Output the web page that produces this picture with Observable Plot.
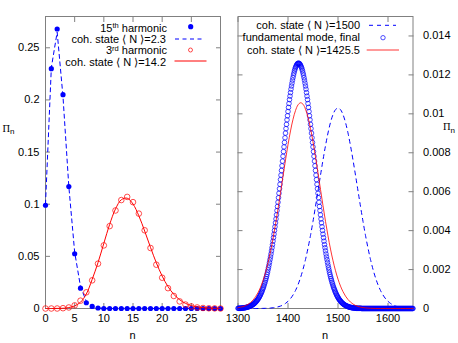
<!DOCTYPE html>
<html><head><meta charset="utf-8">
<script src="https://cdn.jsdelivr.net/npm/d3@7"></script>
<script src="https://cdn.jsdelivr.net/npm/@observablehq/plot@0.6"></script>
<style>
body{margin:0;background:#fff;}
#chart{position:relative;width:458px;height:343px;overflow:hidden;background:#fff;}
#chart svg{position:absolute;top:0;}
</style></head><body>
<div id="chart"></div>
<script>
// ---------- left panel data ----------
const leftN = [0,1,2,3,4,5,6,7,8,9,10,11,12,13,14,15,16,17,18,19,20,21,22,23,24,25,26,27,28,29,30];
const harmonic15 = [0.099,0.230,0.268,0.205,0.117,0.0525,0.0195,0.0055,0.002,0.0005,0,0,0,0,0,0,0,0,0,0,0,0,0,0,0,0,0,0,0,0,0];
const cohN2_3 = [0.100,0.231,0.265,0.203,0.117,0.054,0.021,0.0068,0.002,0.0005,0.0001,0,0,0,0,0,0,0,0,0,0,0,0,0,0,0,0,0,0,0,0];
const harmonic3 = [0,0,0,0.0003,0.001,0.003,0.0075,0.0155,0.027,0.043,0.0605,0.079,0.094,0.104,0.107,0.102,0.091,0.075,0.058,0.042,0.0295,0.0195,0.012,0.0068,0.0038,0.002,0.001,0.0005,0.0002,0.0001,0];
const cohN14_2 = [0,0,0.0001,0.0002,0.0009,0.0025,0.006,0.0139,0.0279,0.044,0.0625,0.0807,0.0955,0.1043,0.1058,0.1002,0.0889,0.0743,0.0586,0.0438,0.0311,0.021,0.0136,0.0084,0.0049,0.0028,0.0015,0.0008,0.0004,0.0002,0.0001];
const leftXTicks = [0,5,10,15,20,25,30];
const leftXLabels = [0,5,10,15,20,25];
const leftYTicks = [0,0.05,0.1,0.15,0.2,0.25];

// ---------- right panel data ----------
const rightN = [1300,1305,1310,1315,1320,1325,1330,1335,1340,1345,1350,1355,1360,1365,1370,1375,1380,1385,1390,1395,1400,1405,1410,1415,1420,1425,1430,1435,1440,1445,1450,1455,1460,1465,1470,1475,1480,1485,1490,1495,1500,1505,1510,1515,1520,1525,1530,1535,1540,1545,1550,1555,1560,1565,1570,1575,1580,1585,1590,1595,1600,1605,1610,1615,1620,1625,1630,1635,1640,1645,1650];
const cohN1500 = [0,0,0,0,0,0,0,0,0,0.000003,0.000006,0.000009,0.000015,0.000024,0.000037,0.000056,0.000085,0.000125,0.000182,0.000261,0.000367,0.000508,0.000692,0.000926,0.00122,0.00158,0.002011,0.002518,0.003102,0.003754,0.004475,0.005245,0.006043,0.006847,0.00763,0.00836,0.009014,0.009556,0.009962,0.010215,0.0103,
 0.010215,0.009962,0.009556,0.009014,0.00836,0.00763,0.006847,0.006043,0.005245,0.004475,0.003754,0.003102,0.002518,0.002011,0.00158,0.00122,0.000926,0.000692,0.000508,0.000367,0.000261,0.000182,0.000125,0.000085,0.000056,0.000037,0.000024,0.000015,0.000009,0.000006];
const cohN1425_5 = [0.000042,0.000065,0.000098,0.000146,0.000213,0.000306,0.000431,0.000598,0.000814,0.001089,0.001432,0.00185,0.002348,0.002928,0.003589,0.004321,0.005114,0.005946,0.006793,0.007627,0.008414,0.009121,0.009716,0.010168,0.010458,0.010569,0.010495,0.01024,0.009819,0.00925,0.008563,0.007789,0.006962,0.006116,0.005278,0.004475,0.003729,0.003053,0.002457,0.001943,0.001508,0.001151,0.000864,0.000636,0.000461,0.000328,0.000229,0.000157,0.000106,0.000071,0.000046,0.00003,0.000019,0.000012,0.000007,0,0,0,0,0,0,0,0,0,0,0,0,0,0,0,0];
// fundamental mode, final: Π_n × 1e5 for n = 1300, 1301, ..., 1650
const fundamentalStart = 1300;
const fundamental_1e5 = [
 1,1,1,1,1,1,2,2,2,2,3,3,3,4,4,5,5,6,6,7,8,
 9,10,11,12,13,14,16,17,19,21,22,25,27,29,32,35,38,41,45,48,
 52,57,61,66,71,77,83,89,96,103,110,118,127,135,145,154,164,175,186,198,
 210,223,237,251,265,280,296,312,328,346,364,382,401,420,440,460,481,503,524,546,
 569,592,615,638,662,685,709,733,757,782,806,830,853,877,901,924,946,969,990,1012,
 1033,1053,1073,1091,1109,1127,1143,1158,1173,1186,1199,1210,1221,1230,1238,1244,1250,1254,1258,1259,
 1260,
 1259,1258,1254,1250,1244,1238,1230,1221,1210,1199,1186,1173,1158,1143,1127,1109,1091,1073,1053,1033,
 1012,990,969,946,924,901,877,853,830,806,782,757,733,709,685,662,638,615,592,569,
 546,524,503,481,460,440,420,401,382,364,346,328,312,296,280,265,251,237,223,210,
 198,186,175,164,154,145,135,127,118,110,103,96,89,83,77,71,66,61,57,52,
 48,45,41,38,35,32,29,27,25,22,21,19,17,16,14,13,12,11,10,9,
 8,7,6,6,5,5,4,4,3,3,3,2,2,2,2,1,1,1,1,1,1,1,1,1,1,
 0,0,0,0,0,0,0,0,0,0, 0,0,0,0,0,0,0,0,0,0, 0,0,0,0,0,0,0,0,0,0, 0,0,0,0,0,0,0,0,0,0,
 0,0,0,0,0,0,0,0,0,0, 0,0,0,0,0,0,0,0,0,0, 0,0,0,0,0,0,0,0,0,0, 0,0,0,0,0,0,0,0,0,0,
 0,0,0,0,0,0,0,0,0,0, 0,0,0,0,0,0,0,0,0,0, 0,0,0,0
];
const rightXTicks = [1300,1400,1500,1600];
const rightYTicks = [0,0.002,0.004,0.006,0.008,0.01,0.012,0.014];

// ---------- tables ----------
const tbl = (ns, vs) => ns.map((n, i) => ({n, p: vs[i]}));
const L15 = tbl(leftN, harmonic15);
const Lc23 = tbl(leftN, cohN2_3);
const L3 = tbl(leftN, harmonic3);
const Lc142 = tbl(leftN, cohN14_2);
const Rc1500 = tbl(rightN, cohN1500);
const Rc1425 = tbl(rightN, cohN1425_5);
const Rfund = fundamental_1e5.map((v, i) => ({n: fundamentalStart + i, p: v / 1e5}));

const GREY = "#808080";
const style = {fontFamily: "'Liberation Sans', Arial, sans-serif", fontSize: "11px", color: "black", background: "none", overflow: "visible"};
const fmt = d => String(d);

function ticksInward(xt, yt) {
  return [
    Plot.axisY({ticks: yt, anchor: "left", tickSize: 5, dx: 5, fill: "none", stroke: GREY, label: null}),
    Plot.axisY({ticks: yt, anchor: "right", tickSize: 5, dx: -5, fill: "none", stroke: GREY, label: null}),
    Plot.axisX({ticks: xt, anchor: "bottom", tickSize: 5, dy: -5, fill: "none", stroke: GREY, label: null}),
    Plot.axisX({ticks: xt, anchor: "top", tickSize: 5, dy: 5, fill: "none", stroke: GREY, label: null})
  ];
}

const left = Plot.plot({
  width: 230, height: 343,
  marginLeft: 45, marginRight: 10, marginTop: 16, marginBottom: 35,
  style,
  x: {domain: [0, 30]},
  y: {domain: [0, 0.28]},
  marks: [
    ...ticksInward(leftXTicks, leftYTicks),
    Plot.axisY({ticks: leftYTicks, anchor: "left", tickSize: 0, tickPadding: 6, tickFormat: fmt, label: null}),
    Plot.axisX({ticks: leftXLabels, anchor: "bottom", tickSize: 0, tickPadding: 6, tickFormat: fmt, label: null}),
    Plot.frame({stroke: GREY}),
    Plot.dot(L15, {x: "n", y: "p", r: 2.6, fill: "#0000ff", stroke: "none"}),
    Plot.line(Lc23, {x: "n", y: "p", stroke: "#0000ff", strokeWidth: 1, strokeDasharray: "4,3.5"}),
    Plot.dot(L3, {x: "n", y: "p", r: 2.8, fill: "none", stroke: "#ff0000", strokeWidth: 0.7}),
    Plot.line(Lc142, {x: "n", y: "p", stroke: "#ff0000", strokeWidth: 1, curve: "catmull-rom"})
  ]
});
left.style.left = "0px";

const right = Plot.plot({
  width: 228, height: 343,
  marginLeft: 7.5, marginRight: 45.5, marginTop: 16, marginBottom: 35,
  style,
  x: {domain: [1300, 1650]},
  y: {domain: [0, 0.015]},
  marks: [
    ...ticksInward(rightXTicks, rightYTicks),
    Plot.axisY({ticks: rightYTicks, anchor: "right", tickSize: 0, tickPadding: 10, tickFormat: fmt, label: null}),
    Plot.axisX({ticks: rightXTicks, anchor: "bottom", tickSize: 0, tickPadding: 6, tickFormat: fmt, label: null}),
    Plot.frame({stroke: GREY}),
    Plot.line(Rc1500, {x: "n", y: "p", stroke: "#0000ff", strokeWidth: 1, strokeDasharray: "4,4", curve: "catmull-rom"}),
    Plot.dot(Rfund, {x: "n", y: "p", r: 2.3, fill: "none", stroke: "#0000ff", strokeWidth: 0.7}),
    Plot.line(Rc1425, {x: "n", y: "p", stroke: "#ff0000", strokeWidth: 0.8, curve: "catmull-rom"})
  ]
});
right.style.left = "230px";

const chart = document.getElementById("chart");
chart.appendChild(left);
chart.appendChild(right);

// ---------- legends and axis titles ----------
const overlay = `
<svg width="458" height="343" style="left:0;top:0;pointer-events:none" font-family="'Liberation Sans', Arial, sans-serif" font-size="11" fill="black">
  <g text-anchor="end">
    <text x="167" y="31.5">15<tspan dy="-3.5" font-size="7.5">th</tspan><tspan dy="3.5"> harmonic</tspan></text>
    <text x="166" y="42.5">coh. state ⟨ N ⟩=2.3</text>
    <text x="167" y="54.3">3<tspan dy="-3.5" font-size="7.5">rd</tspan><tspan dy="3.5"> harmonic</tspan></text>
    <text x="166" y="65.5">coh. state ⟨ N ⟩=14.2</text>
    <text x="360" y="29.3">coh. state ⟨ N ⟩=1500</text>
    <text x="360" y="41.3">fundamental mode, final</text>
    <text x="360" y="53.6">coh. state ⟨ N ⟩=1425.5</text>
  </g>
  <circle cx="190.7" cy="26.7" r="2.6" fill="#0000ff"/>
  <line x1="175" x2="202" y1="39" y2="39" stroke="#0000ff" stroke-dasharray="4,3.5"/>
  <circle cx="190.5" cy="50" r="2" fill="none" stroke="#ff0000" stroke-width="0.7"/>
  <line x1="174.5" x2="206.5" y1="61" y2="61" stroke="#ff0000"/>
  <line x1="369" x2="396" y1="25.3" y2="25.3" stroke="#0000ff" stroke-dasharray="4,4"/>
  <circle cx="383" cy="37.7" r="2.2" fill="none" stroke="#0000ff" stroke-width="0.7"/>
  <line x1="366.7" x2="399" y1="50" y2="50" stroke="#ff0000" stroke-width="0.8"/>
  <text x="2.5" y="131.5" font-family="'Liberation Serif', 'DejaVu Serif', serif" font-size="10.5">Π<tspan dy="2.5" font-size="8" font-family="'Liberation Sans', Arial, sans-serif">n</tspan></text>
  <text x="443" y="130" font-family="'Liberation Serif', 'DejaVu Serif', serif" font-size="10.5">Π<tspan dy="2.5" font-size="8" font-family="'Liberation Sans', Arial, sans-serif">n</tspan></text>
  <text x="132.5" y="339" text-anchor="middle">n</text>
  <text x="325" y="339" text-anchor="middle">n</text>
</svg>`;
chart.insertAdjacentHTML("beforeend", overlay);
</script>
</body></html>
